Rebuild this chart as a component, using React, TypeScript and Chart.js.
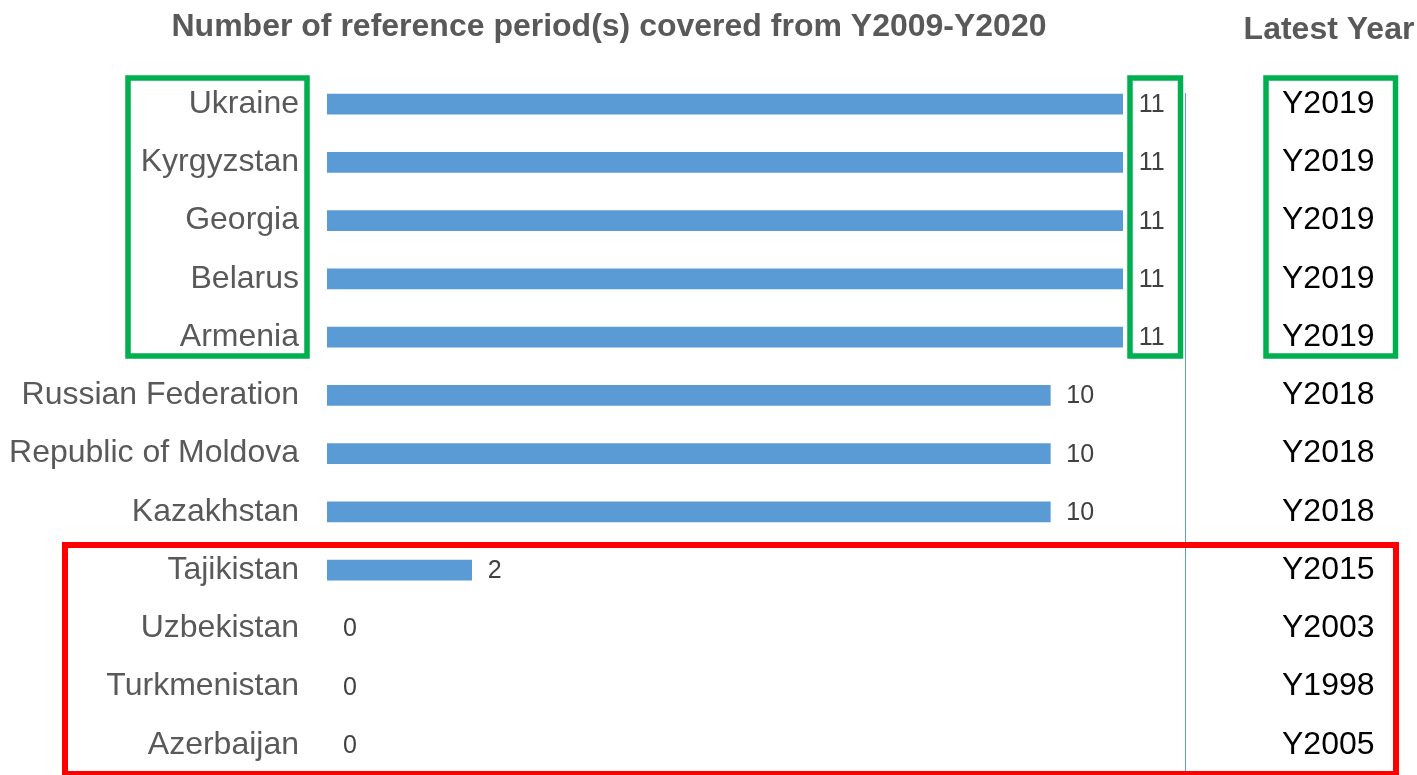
import React, { useEffect, useRef } from 'react';
import { Chart, registerables } from 'chart.js';

Chart.register(...registerables);

const countries = [
  'Ukraine',
  'Kyrgyzstan',
  'Georgia',
  'Belarus',
  'Armenia',
  'Russian Federation',
  'Republic of Moldova',
  'Kazakhstan',
  'Tajikistan',
  'Uzbekistan',
  'Turkmenistan',
  'Azerbaijan',
];
const periodsCovered = [11, 11, 11, 11, 11, 10, 10, 10, 2, 0, 0, 0];
const latestYears = [
  'Y2019',
  'Y2019',
  'Y2019',
  'Y2019',
  'Y2019',
  'Y2018',
  'Y2018',
  'Y2018',
  'Y2015',
  'Y2003',
  'Y1998',
  'Y2005',
];
const chartTitle = 'Number of reference period(s) covered from Y2009-Y2020';
const latestYearTitle = 'Latest Year';
const xMax = 12;

const FONT = "'Liberation Sans', Arial, sans-serif";
const W = 1417;
const H = 775;

const overlayPlugin = {
  id: 'overlay',
  afterDraw(chart: any) {
    const ctx = chart.ctx;
    ctx.save();

    // value labels
    const meta = chart.getDatasetMeta(0);
    ctx.font = `25px ${FONT}`;
    ctx.fillStyle = '#404040';
    ctx.textAlign = 'left';
    ctx.textBaseline = 'middle';
    meta.data.forEach((el: any, i: number) => {
      ctx.fillText(String(periodsCovered[i]), el.x + 16, el.y + 1);
    });

    // titles
    ctx.font = `bold 32px ${FONT}`;
    ctx.fillStyle = '#595959';
    ctx.textAlign = 'center';
    ctx.textBaseline = 'alphabetic';
    ctx.fillText(chartTitle, 609, 36);
    ctx.fillText(latestYearTitle, 1329, 39);

    // thin vertical separator
    ctx.strokeStyle = '#5B9BD5';
    ctx.lineWidth = 1;
    ctx.beginPath();
    ctx.moveTo(1185.5, 93);
    ctx.lineTo(1185.5, H);
    ctx.stroke();

    // green highlight boxes
    ctx.strokeStyle = '#00B050';
    ctx.lineWidth = 5.5;
    ctx.strokeRect(128, 78, 179, 278);
    ctx.strokeRect(1130, 78, 50.5, 278);
    ctx.strokeRect(1266, 78, 129.5, 278);

    // red highlight box
    ctx.strokeStyle = '#FF0000';
    ctx.lineWidth = 6;
    ctx.strokeRect(65, 545, 1331, 229);

    ctx.restore();
  },
};

export default function App() {
  const canvasRef = useRef<HTMLCanvasElement | null>(null);

  useEffect(() => {
    if (!canvasRef.current) return;
    const chart = new Chart(canvasRef.current, {
      type: 'bar',
      data: {
        labels: countries,
        datasets: [
          {
            data: periodsCovered,
            backgroundColor: (c: any) => (c.raw === 0 ? 'rgba(0,0,0,0)' : '#5B9BD5'),
            barThickness: 20,
          },
        ],
      },
      options: {
        indexAxis: 'y',
        responsive: false,
        animation: false,
        layout: { padding: { top: 75, bottom: 1, left: 0, right: 0 } },
        plugins: {
          legend: { display: false },
          tooltip: { enabled: false },
          title: { display: false },
        },
        scales: {
          x: {
            type: 'linear',
            min: 0,
            max: xMax,
            display: false,
          },
          y: {
            type: 'category',
            position: 'left',
            offset: true,
            grid: { display: false, drawTicks: false },
            border: { display: false },
            afterFit: (s: any) => {
              s.width = 327;
              s.paddingTop = 0;
              s.paddingBottom = 0;
            },
            ticks: {
              autoSkip: false,
              padding: 28,
              color: '#595959',
              font: { family: FONT, size: 32 },
            },
          },
          y2: {
            type: 'category',
            position: 'right',
            labels: latestYears,
            offset: true,
            grid: { display: false, drawTicks: false },
            border: { display: false },
            afterFit: (s: any) => {
              s.width = 222;
              s.paddingTop = 0;
              s.paddingBottom = 0;
            },
            ticks: {
              autoSkip: false,
              padding: 87,
              color: '#000000',
              font: { family: FONT, size: 32 },
            },
          },
        },
      } as any,
      plugins: [overlayPlugin],
    });
    return () => chart.destroy();
  }, []);

  return (
    <div style={{ position: 'absolute', left: 0, top: 0, width: W, height: H, background: '#fff' }}>
      <canvas ref={canvasRef} width={W} height={H} style={{ display: 'block' }} />
    </div>
  );
}
